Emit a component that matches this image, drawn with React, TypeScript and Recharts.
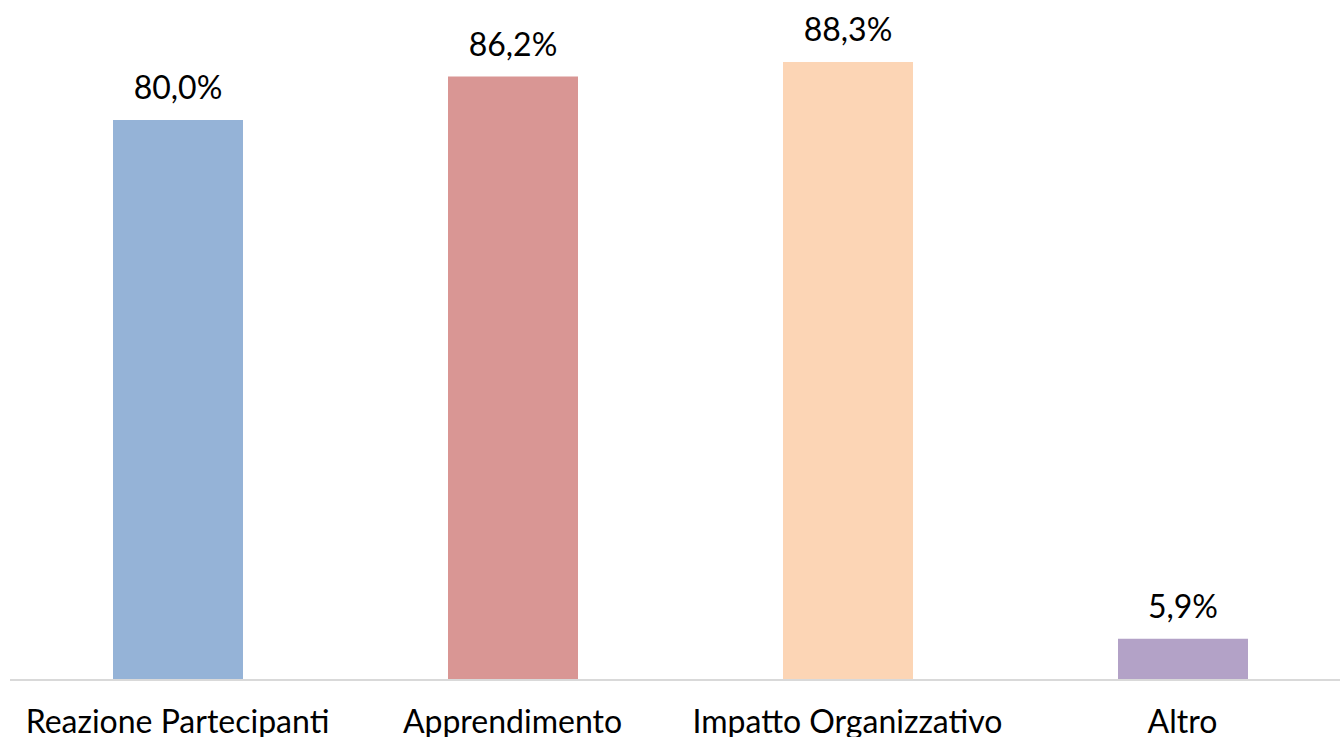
import { BarChart, Bar, XAxis, YAxis, Cell, LabelList } from 'recharts';

const categories = ['Reazione Partecipanti', 'Apprendimento', 'Impatto Organizzativo', 'Altro'];
const values = [80.0, 86.2, 88.3, 5.9];
const colors = ['#95B3D7', '#D99694', '#FCD5B5', '#B3A2C7'];

const data = categories.map((name, i) => ({ name, value: values[i] }));

const fmt = (v: number) => v.toFixed(1).replace('.', ',') + '%';

export default function App() {
  return (
    <div
      style={{
        position: 'absolute',
        left: 0,
        top: 0,
        width: 1340,
        height: 737,
        overflow: 'hidden',
        background: '#fff',
        fontFamily: 'Lato, sans-serif',
      }}
    >
      <BarChart
        width={1350}
        height={737}
        data={data}
        margin={{ top: 50, right: 0, left: 10, bottom: 0 }}
        barCategoryGap={0}
      >
        <XAxis
          dataKey="name"
          axisLine={{ stroke: '#D9D9D9', strokeWidth: 2 }}
          tickLine={false}
          tickMargin={24}
          height={57}
          interval={0}
          tick={{ fill: '#000', fontSize: 32 }}
        />
        <YAxis hide domain={[0, 90]} />
        <Bar dataKey="value" barSize={130} isAnimationActive={false}>
          {data.map((d, i) => (
            <Cell key={d.name} fill={colors[i]} />
          ))}
          <LabelList
            dataKey="value"
            position="top"
            offset={21}
            formatter={(v: number) => fmt(v)}
            style={{ fill: '#000', fontSize: 32 }}
          />
        </Bar>
      </BarChart>
    </div>
  );
}
